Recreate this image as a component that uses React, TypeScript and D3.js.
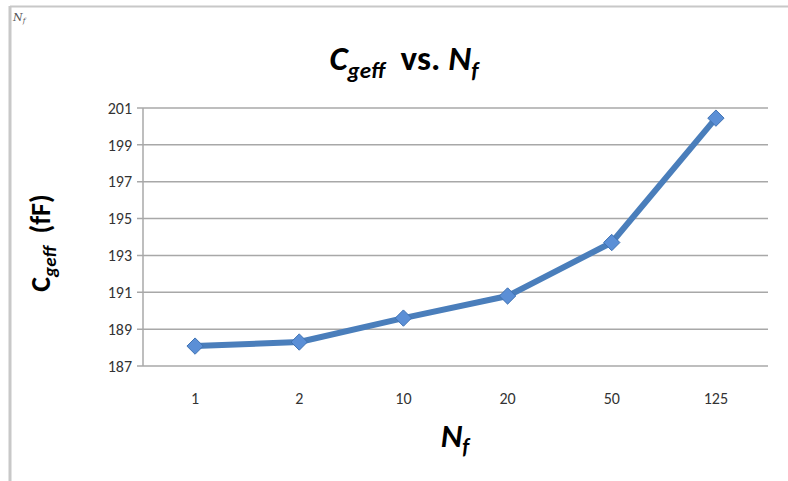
import React, { useEffect, useRef } from "react";
import * as d3 from "d3";

const categories = ["1", "2", "10", "20", "50", "125"];
const values = [188.08, 188.3, 189.6, 190.8, 193.7, 200.45];
const yTicks = [187, 189, 191, 193, 195, 197, 199, 201];

const App = () => {
  const svgRef = useRef<SVGSVGElement>(null);

  useEffect(() => {
    const W = 788;
    const H = 481;
    const margin = { top: 108, right: 20, bottom: 115, left: 143 };
    const width = W - margin.left - margin.right;
    const height = H - margin.top - margin.bottom;
    const font = "Carlito, 'Open Sans', 'Noto Sans', sans-serif";

    const root = d3.select(svgRef.current);
    root.selectAll("*").remove();
    root.attr("width", W).attr("height", H)
      .style("display", "block").style("position", "absolute")
      .style("left", 0).style("top", 0);

    root.append("rect").attr("width", W).attr("height", H).attr("fill", "#fff");

    // outer frame (top + left only visible)
    root.append("line").attr("x1", 10).attr("x2", W).attr("y1", 6.5).attr("y2", 6.5)
      .attr("stroke", "#c8c8c8").attr("stroke-width", 2);
    root.append("line").attr("x1", 10).attr("x2", 10).attr("y1", 6).attr("y2", H)
      .attr("stroke", "#c8c8c8").attr("stroke-width", 3);

    root.append("text").attr("x", 13).attr("y", 21)
      .attr("font-family", "'DejaVu Serif', serif").attr("font-style", "italic")
      .attr("font-size", 11).attr("fill", "#555").text("N")
      .append("tspan").attr("font-size", 7).attr("dy", 2).text("f");

    const g = root.append("g").attr("transform", `translate(${margin.left},${margin.top})`);

    const x = d3.scaleBand().domain(categories).range([0, width]);
    const y = d3.scaleLinear().domain([187, 201]).range([height, 0]);

    // gridlines
    g.append("g")
      .selectAll("line")
      .data(yTicks)
      .enter()
      .append("line")
      .attr("x1", -6)
      .attr("x2", width)
      .attr("y1", (d) => y(d))
      .attr("y2", (d) => y(d))
      .attr("stroke", "#a8a8a8")
      .attr("stroke-width", 1.5);

    // y axis line
    g.append("line").attr("x1", 0).attr("x2", 0).attr("y1", 0).attr("y2", height)
      .attr("stroke", "#a8a8a8").attr("stroke-width", 1.5);

    g.append("g")
      .selectAll("text")
      .data(yTicks)
      .enter()
      .append("text")
      .attr("x", -11)
      .attr("y", (d) => y(d))
      .attr("dy", "0.36em")
      .attr("text-anchor", "end")
      .attr("font-family", font)
      .attr("font-size", 16)
      .attr("fill", "#333")
      .text((d) => d);

    g.append("g")
      .selectAll("text")
      .data(categories)
      .enter()
      .append("text")
      .attr("x", (d) => (x(d) as number) + x.bandwidth() / 2)
      .attr("y", height + 38)
      .attr("text-anchor", "middle")
      .attr("font-family", font)
      .attr("font-size", 16)
      .attr("fill", "#333")
      .text((d) => d);

    const line = d3
      .line<number>()
      .x((_, i) => (x(categories[i]) as number) + x.bandwidth() / 2)
      .y((d) => y(d));

    g.append("path")
      .datum(values)
      .attr("d", line)
      .attr("fill", "none")
      .attr("stroke", "#4a7ebb")
      .attr("stroke-width", 6)
      .attr("stroke-linejoin", "round");

    g.append("g")
      .selectAll("path")
      .data(values)
      .enter()
      .append("path")
      .attr("d", d3.symbol().type(d3.symbolDiamond2).size(170)() as string)
      .attr("transform", (d, i) =>
        `translate(${(x(categories[i]) as number) + x.bandwidth() / 2},${y(d)})`
      )
      .attr("fill", "#5b8fd6")
      .attr("stroke", "#3f72b3")
      .attr("stroke-width", 1);

    // title
    const title = root.append("text").attr("x", 404).attr("y", 70)
      .attr("text-anchor", "middle").attr("font-family", font)
      .attr("font-weight", "bold").attr("font-size", 35).attr("fill", "#000");
    title.append("tspan").attr("font-style", "italic").text("C");
    title.append("tspan").attr("font-style", "italic").attr("font-size", 23).attr("dy", 8).text("geff");
    title.append("tspan").attr("dy", -8).text("\u00a0\u00a0vs. ");
    title.append("tspan").attr("font-style", "italic").text("N");
    title.append("tspan").attr("font-style", "italic").attr("font-size", 23).attr("dy", 8).text("f");

    // x axis title
    const xt = root.append("text").attr("x", 455).attr("y", 447)
      .attr("text-anchor", "middle").attr("font-family", font)
      .attr("font-weight", "bold").attr("font-style", "italic")
      .attr("font-size", 33).attr("fill", "#000");
    xt.append("tspan").text("N");
    xt.append("tspan").attr("font-size", 22).attr("dy", 7).text("f");

    // y axis title
    const yt = root.append("text")
      .attr("transform", "translate(50,243) rotate(-90)")
      .attr("text-anchor", "middle").attr("font-family", font)
      .attr("font-weight", "bold").attr("font-size", 28).attr("fill", "#000");
    yt.append("tspan").text("C");
    yt.append("tspan").attr("font-style", "italic").attr("font-size", 19).attr("dy", 6).text("geff");
    yt.append("tspan").attr("dy", -6).text("\u00a0 (fF)");
  }, []);

  return <svg ref={svgRef}></svg>;
};

export default App;
